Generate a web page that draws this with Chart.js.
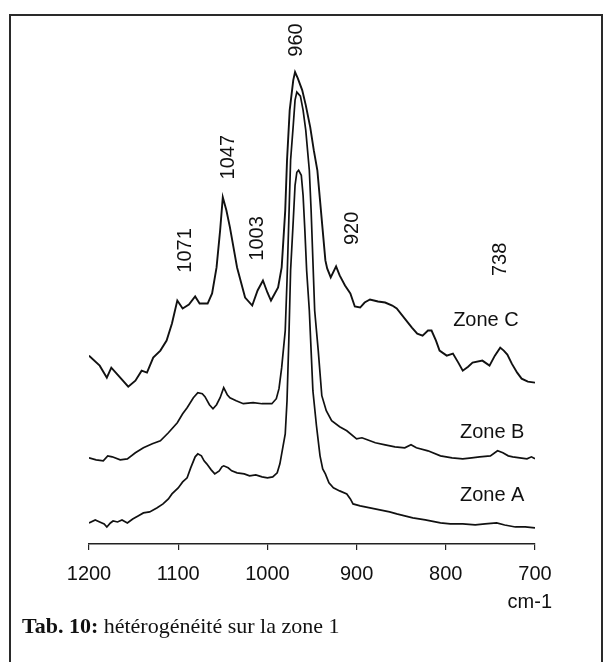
<!DOCTYPE html>
<html><head><meta charset="utf-8">
<script src="https://cdn.jsdelivr.net/npm/chart.js@4"></script>
<style>
html,body{margin:0;padding:0;background:#fff;}
#wrap{position:relative;width:607px;height:662px;overflow:hidden;}
#frame{position:absolute;left:9px;top:14px;width:594px;height:660px;border:2px solid #2a2a2a;border-bottom:none;box-sizing:border-box;}
canvas{position:absolute;left:0;top:0;}
#cap{position:absolute;left:22px;top:615px;font-family:"Liberation Serif","Times New Roman",serif;font-size:22px;line-height:22px;color:#111;white-space:nowrap;}
</style></head>
<body><div id="wrap"><div id="frame"></div><canvas id="c" width="607" height="662"></canvas><div id="cap"><b>Tab. 10:</b> hétérogénéité sur la zone 1</div></div>
<script>
// ---- data (wavenumber in cm-1, intensity in arbitrary units, offset spectra) ----
const xTicks = [1200, 1100, 1000, 900, 800, 700];

const zoneC_wn  = [1200,1188,1180,1175,1167,1156,1148,1141,1135,1128,1120,1113,1107,1101,1095,1088,1081,1076,1067,1062,1057,1053,1050,1046,1042,1034,1025,1017,1011,1005,1000,996,988,984,980,978,975,971,969,966,961,957,952,948,944,941,938,935,933,929,923,919,913,907,902,896,891,885,876,868,860,855,846,838,832,826,820,816,811,807,799,792,786,781,775,770,759,751,745,739,735,731,726,720,715,708,700];
const zoneC_int = [188,178,166,176,168,157,163,173,171,186,193,203,220,243,235,239,247,240,240,250,276,313,346,333,316,276,246,238,253,263,251,243,256,276,333,383,433,463,471,465,453,438,416,393,373,343,313,283,275,266,277,268,258,250,237,236,241,244,242,241,238,235,225,216,210,208,213,213,203,193,188,190,181,173,177,181,183,178,188,196,193,189,180,171,165,162,161];

const zoneB_wn  = [1200,1192,1184,1179,1174,1165,1157,1148,1139,1129,1120,1111,1101,1095,1090,1083,1078,1073,1070,1065,1061,1057,1053,1049,1045,1042,1035,1027,1016,1006,995,990,987,984,980,978,976,974,971,969,967,963,960,957,953,951,949,947,943,939,934,928,919,911,900,894,888,879,868,857,846,839,833,820,806,793,781,771,762,750,742,736,730,725,717,709,704,700];
const zoneB_int = [86,84,83,88,87,84,85,91,96,100,103,111,121,130,136,146,151,150,147,139,135,139,146,156,149,146,143,140,141,140,140,145,155,176,213,263,323,383,418,443,451,447,433,413,373,333,283,233,193,148,133,123,117,113,105,106,104,101,99,97,96,99,96,93,88,86,85,86,87,88,93,91,88,87,86,85,87,85];

const zoneA_wn  = [1200,1193,1188,1183,1180,1176,1173,1168,1163,1157,1151,1145,1139,1132,1124,1117,1111,1107,1100,1095,1090,1086,1081,1078,1074,1071,1068,1063,1059,1054,1051,1049,1044,1040,1034,1026,1020,1013,1006,1000,994,989,986,983,980,978,976,974,971,969,967,965,962,960,958,956,953,951,949,945,943,941,938,935,931,926,919,911,907,904,896,885,874,863,855,846,837,823,806,795,781,767,756,743,734,722,711,700];
const zoneA_int = [21,24,22,20,17,21,23,22,24,21,25,28,31,32,36,40,45,50,56,62,66,76,87,90,88,83,80,74,70,73,77,78,76,73,71,70,68,69,67,66,67,71,80,95,110,143,203,273,323,358,371,373,368,348,313,273,233,193,153,118,103,88,75,70,61,56,53,50,45,40,38,36,34,32,30,28,26,24,21,20,20,19,20,21,19,17,17,16];

const zoneNames  = ['Zone C', 'Zone B', 'Zone A'];
const peakLabels = ['1071', '1047', '1003', '960', '920', '738'];
const unitLabel  = 'cm-1';

// ---- annotation anchors (data coordinates) ----
const peakLabelAt = [[1092,293],[1044,386],[1011,305],[967,503],[905,315],[739,284]];
const zoneLabelAt = [[755,223],[748,111],[748,48]];

const pts = (w, v) => w.map((x, i) => ({x: x, y: v[i]}));
const lineStyle = {borderColor:'#111', borderWidth:1.7, pointRadius:0, tension:0, fill:false};

const annot = {
  id: 'annot',
  afterDatasetsDraw(chart) {
    const {ctx, scales: {x, y}} = chart;
    ctx.save();
    ctx.fillStyle = '#111';
    ctx.font = '20px "Liberation Sans", Arial, sans-serif';
    ctx.textAlign = 'center';
    ctx.textBaseline = 'middle';
    peakLabels.forEach((t, i) => {
      const px = x.getPixelForValue(peakLabelAt[i][0]);
      const py = y.getPixelForValue(peakLabelAt[i][1]);
      ctx.save(); ctx.translate(px, py); ctx.rotate(-Math.PI / 2);
      ctx.fillText(t, 0, 0); ctx.restore();
    });
    zoneNames.forEach((t, i) => {
      ctx.fillText(t, x.getPixelForValue(zoneLabelAt[i][0]), y.getPixelForValue(zoneLabelAt[i][1]));
    });
    ctx.textAlign = 'right';
    ctx.fillText(unitLabel, x.getPixelForValue(700) + 17, y.getPixelForValue(0) + 58);
    ctx.restore();
  }
};

new Chart(document.getElementById('c'), {
  type: 'line',
  data: {
    datasets: [
      Object.assign({label: zoneNames[0], data: pts(zoneC_wn, zoneC_int)}, lineStyle, {borderWidth: 1.9}),
      Object.assign({label: zoneNames[1], data: pts(zoneB_wn, zoneB_int)}, lineStyle),
      Object.assign({label: zoneNames[2], data: pts(zoneA_wn, zoneA_int)}, lineStyle)
    ]
  },
  options: {
    responsive: false,
    devicePixelRatio: 1,
    animation: false,
    layout: {padding: {left: 89, right: 72, top: 43, bottom: 64}},
    plugins: {legend: {display: false}, tooltip: {enabled: false}},
    scales: {
      x: {
        type: 'linear', reverse: true, min: 700, max: 1200,
        afterBuildTicks: (s) => { s.ticks = xTicks.map(v => ({value: v})); },
        ticks: {color: '#111', font: {family: '"Liberation Sans", Arial, sans-serif', size: 20}, padding: 12, maxRotation: 0, autoSkip: false,
                callback: (v) => String(v)},
        grid: {drawOnChartArea: false, drawTicks: true, tickLength: 6, color: '#222', lineWidth: 1.2},
        border: {display: true, color: '#222', width: 1.5}
      },
      y: {display: false, min: 0, max: 500}
    }
  },
  plugins: [annot]
});
</script>
</body></html>
